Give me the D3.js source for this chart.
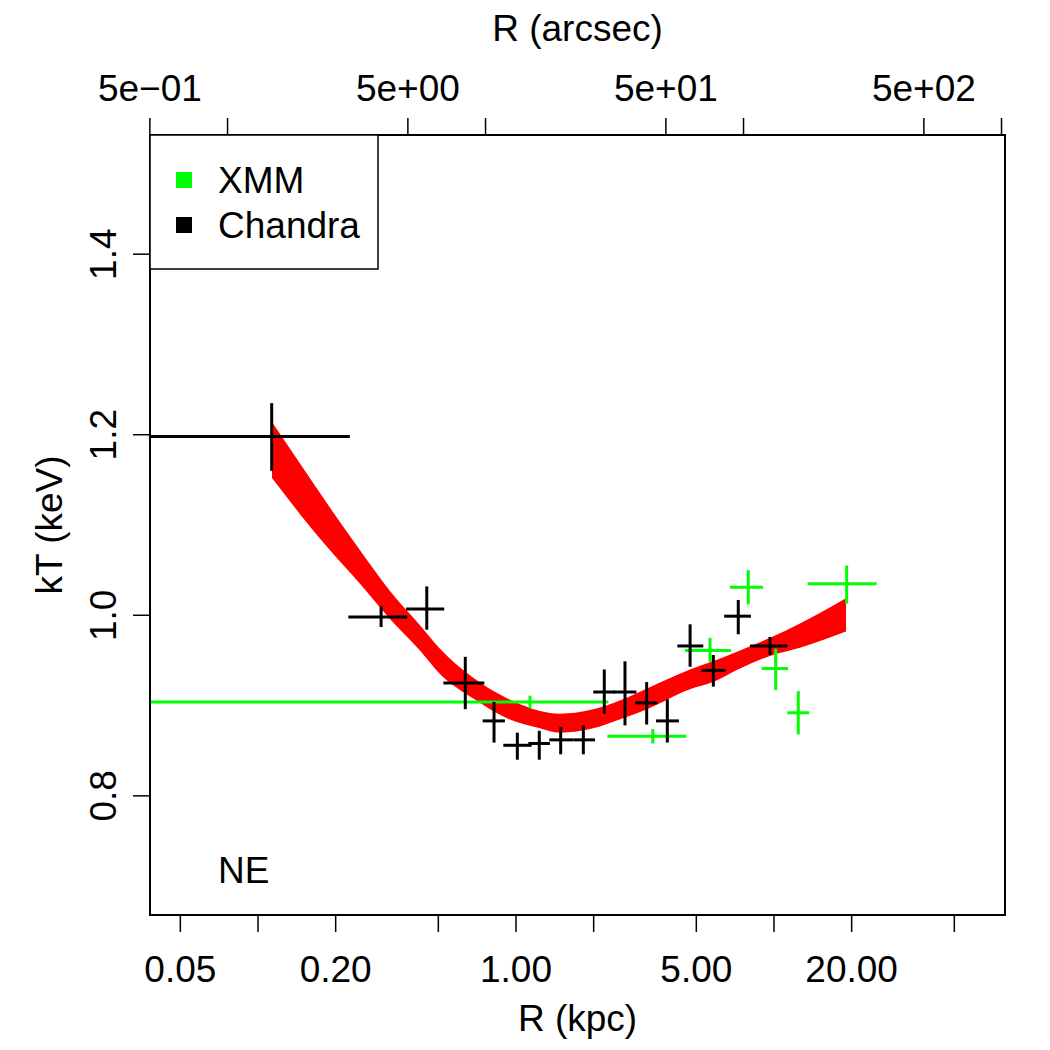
<!DOCTYPE html>
<html>
<head>
<meta charset="utf-8">
<script src="https://cdn.jsdelivr.net/npm/d3@7"></script>
<style>
  html, body { margin: 0; padding: 0; background: #fff; }
  svg text { font-family: "Liberation Sans", Arial, Helvetica, sans-serif; fill: #000; }
</style>
</head>
<body>
<svg id="chart" width="1050" height="1050"></svg>
<script>
// ---------------- data ----------------
const chandraR   = [0.113, 0.300, 0.451, 0.636, 0.822, 1.012, 1.231, 1.490, 1.824, 2.199, 2.645, 3.21, 3.86, 4.73, 5.82, 7.27, 9.65];
const chandraRlo = [0.03, 0.224, 0.375, 0.523, 0.743, 0.893, 1.116, 1.346, 1.668, 1.993, 2.383, 2.895, 3.49, 4.22, 5.24, 6.41, 8.07];
const chandraRhi = [0.227, 0.379, 0.527, 0.754, 0.906, 1.150, 1.354, 1.668, 2.024, 2.420, 2.93, 3.53, 4.28, 5.32, 6.49, 8.14, 11.27];
const chandraT   = [1.198, 0.998, 1.007, 0.925, 0.883, 0.856, 0.858, 0.862, 0.862, 0.915, 0.915, 0.903, 0.883, 0.966, 0.939, 0.999, 0.966];
const chandraTlo = [1.160, 0.987, 0.984, 0.896, 0.859, 0.840, 0.840, 0.846, 0.846, 0.891, 0.878, 0.879, 0.859, 0.943, 0.921, 0.979, 0.956];
const chandraThi = [1.235, 1.010, 1.032, 0.954, 0.904, 0.870, 0.872, 0.876, 0.878, 0.940, 0.949, 0.926, 0.907, 0.990, 0.956, 1.017, 0.976];

const xmmR   = [1.133, 3.39, 5.65, 7.95, 10.15, 12.42, 19.13];
const xmmRlo = [0.03, 2.26, 4.52, 6.75, 8.95, 11.27, 13.5];
const xmmRhi = [2.28, 4.57, 6.81, 9.07, 11.35, 13.69, 25.0];
const xmmT   = [0.904, 0.866, 0.961, 1.031, 0.941, 0.892, 1.035];
const xmmTlo = [0.897, 0.858, 0.948, 1.012, 0.917, 0.868, 1.013];
const xmmThi = [0.911, 0.874, 0.975, 1.050, 0.963, 0.916, 1.055];

const bandR  = [0.1133, 0.1455, 0.1902, 0.2485, 0.3247, 0.4245, 0.5074, 0.6811, 0.9228, 1.239, 1.481, 1.936, 2.598, 3.220, 4.725, 5.802, 7.383, 9.650, 12.61, 19.02];
const bandHi = [1.214, 1.168, 1.119, 1.072, 1.027, 0.989, 0.963, 0.931, 0.908, 0.894, 0.891, 0.895, 0.907, 0.919, 0.940, 0.949, 0.961, 0.975, 0.991, 1.019];
const bandLo = [1.152, 1.112, 1.072, 1.035, 0.996, 0.961, 0.935, 0.908, 0.886, 0.875, 0.870, 0.874, 0.886, 0.896, 0.918, 0.926, 0.941, 0.955, 0.964, 0.982];

const kpcPerArcsec = 0.0762;
const xTicks      = [0.05, 0.1, 0.2, 0.5, 1, 2, 5, 10, 20, 50];
const xTickLabels = ["0.05", "", "0.20", "", "1.00", "", "5.00", "", "20.00", ""];
const topTicks      = [0.5, 1, 5, 10, 50, 100, 500, 1000];
const topTickLabels = ["5e\u221201", "", "5e+00", "", "5e+01", "", "5e+02", ""];
const yTicks      = [0.8, 1.0, 1.2, 1.4];
const yTickLabels = ["0.8", "1.0", "1.2", "1.4"];
const legendLabels = ["XMM", "Chandra"];
const legendColors = ["#00ff00", "#000000"];

// ---------------- layout ----------------
const L = 150, R = 1005, T = 135, B = 915;
const FS = 37;
const svg = d3.select("#chart");

const x = d3.scaleLog().domain([0.03814, 78.6]).range([L, R]);
const xTop = d3.scaleLog().domain([0.03814 / kpcPerArcsec, 78.6 / kpcPerArcsec]).range([L, R]);
const y = d3.scaleLinear().domain([0.668, 1.532]).range([B, T]);

svg.append("defs").append("clipPath").attr("id", "plotclip")
  .append("rect").attr("x", L).attr("y", T).attr("width", R - L).attr("height", B - T);

const plot = svg.append("g").attr("clip-path", "url(#plotclip)");

// band
const bandData = bandR.map((r, i) => ({ r, lo: bandLo[i], hi: bandHi[i] }));
plot.append("path")
  .datum(bandData)
  .attr("fill", "#ff0000")
  .attr("stroke", "none")
  .attr("d", d3.area().x(d => x(d.r)).y0(d => y(d.lo)).y1(d => y(d.hi)).curve(d3.curveMonotoneX));

function drawErr(Rc, Rlo, Rhi, Tc, Tlo, Thi, color) {
  const g = plot.append("g").attr("stroke", color).attr("stroke-width", 3).attr("fill", "none");
  Rc.forEach((r, i) => {
    g.append("line").attr("x1", x(Rlo[i])).attr("x2", x(Rhi[i])).attr("y1", y(Tc[i])).attr("y2", y(Tc[i]));
    g.append("line").attr("x1", x(r)).attr("x2", x(r)).attr("y1", y(Tlo[i])).attr("y2", y(Thi[i]));
  });
}
drawErr(xmmR, xmmRlo, xmmRhi, xmmT, xmmTlo, xmmThi, "#00ff00");
drawErr(chandraR, chandraRlo, chandraRhi, chandraT, chandraTlo, chandraThi, "#000000");

// axes
const TL = 17;
// bottom
const gb = svg.append("g");
xTicks.forEach((t, i) => {
  gb.append("line").attr("x1", x(t)).attr("x2", x(t)).attr("y1", B).attr("y2", B + TL)
    .attr("stroke", "#000").attr("stroke-width", 1.5);
  if (xTickLabels[i]) gb.append("text").attr("x", x(t)).attr("y", 982).attr("text-anchor", "middle")
    .attr("font-size", FS).text(xTickLabels[i]);
});
// top
const gt = svg.append("g");
topTicks.forEach((t, i) => {
  gt.append("line").attr("x1", xTop(t)).attr("x2", xTop(t)).attr("y1", T).attr("y2", T - TL)
    .attr("stroke", "#000").attr("stroke-width", 1.5);
  if (topTickLabels[i]) gt.append("text").attr("x", xTop(t)).attr("y", 101).attr("text-anchor", "middle")
    .attr("font-size", FS).text(topTickLabels[i]);
});
// left
const gl = svg.append("g");
yTicks.forEach((t, i) => {
  gl.append("line").attr("x1", L).attr("x2", L - TL).attr("y1", y(t)).attr("y2", y(t))
    .attr("stroke", "#000").attr("stroke-width", 1.5);
  gl.append("text").attr("transform", `translate(116,${y(t)}) rotate(-90)`).attr("text-anchor", "middle")
    .attr("font-size", FS).text(yTickLabels[i]);
});

// box
svg.append("rect").attr("x", L).attr("y", T).attr("width", R - L).attr("height", B - T)
  .attr("fill", "none").attr("stroke", "#000").attr("stroke-width", 2);

// titles
svg.append("text").attr("x", (L + R) / 2).attr("y", 1031).attr("text-anchor", "middle").attr("font-size", FS).text("R (kpc)");
svg.append("text").attr("x", (L + R) / 2).attr("y", 41).attr("text-anchor", "middle").attr("font-size", FS).text("R (arcsec)");
svg.append("text").attr("transform", `translate(62,${(T + B) / 2}) rotate(-90)`).attr("text-anchor", "middle")
  .attr("font-size", FS).text("kT (keV)");

// legend
const lg = svg.append("g");
lg.append("rect").attr("x", L).attr("y", T).attr("width", 228).attr("height", 134)
  .attr("fill", "#fff").attr("stroke", "#000").attr("stroke-width", 1.5);
legendLabels.forEach((lab, i) => {
  const cy = 180 + i * 45;
  lg.append("rect").attr("x", 176).attr("y", cy - 8).attr("width", 16).attr("height", 16).attr("fill", legendColors[i]);
  lg.append("text").attr("x", 218).attr("y", cy + 13).attr("font-size", FS).text(lab);
});

// panel label
svg.append("text").attr("x", 218).attr("y", 883).attr("font-size", FS).text("NE");
</script>
</body>
</html>
